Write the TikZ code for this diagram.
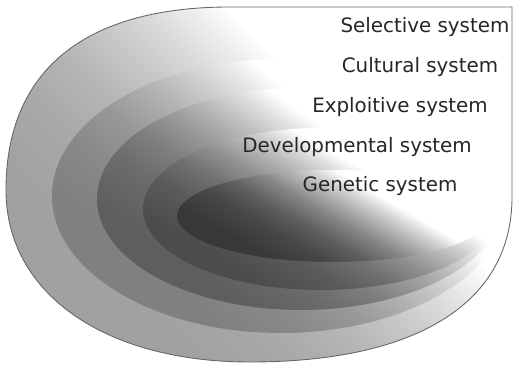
\documentclass[tikz,border=0pt]{standalone}
\usepackage{fontspec}
\setsansfont{DejaVu Sans}
\usepackage{xcolor}
\usepackage{tikz}

% one fade for every shell, tone taken from layertone when used
\colorlet{layertone}{black!40}
\pgfdeclarehorizontalshading[layertone]{layerfade}{100bp}{color(0bp)=(layertone); color(30bp)=(layertone); color(38bp)=(layertone!92!white); color(44bp)=(layertone!80!white); color(50bp)=(layertone!60!white); color(55bp)=(layertone!38!white); color(59bp)=(layertone!18!white); color(62bp)=(white); color(100bp)=(white)}

\tikzset{
    shell/.style={shading=layerfade, shading angle=#1},
    shell/.default=45,
    rim/.style={draw=black!60, line width=0.5pt},
    systemtext/.style={font=\fontsize{11.3}{13}\selectfont\sffamily, text=black!85, inner sep=0pt}
}

\begin{document}
\begin{tikzpicture}[x=0.02cm, y=0.02cm]
    \useasboundingbox (0,0) rectangle (513,367);

    % outer shell, flat along the top and right
    \colorlet{layertone}{black!37}
    \shade[shell, rim] (512,360) -- (230,360)
        .. controls (84,360) and (6,296) .. (6,177)
        .. controls (6,74) and (104,5) .. (250,5)
        .. controls (420,5) and (512,66) .. (512,170) -- cycle;

    % inner shells
    \foreach \cx/\cy/\rx/\ry/\tone/\ang in {281/171/229/137/50/50, 301/168/204/111/63/55, 321/158/178/81/70/60, 333/151/156/46/78/60} {
        \colorlet{layertone}{black!\tone}
        \shade[shell=\ang] (\cx,\cy) ellipse[x radius=\rx, y radius=\ry];
    }

    \node (selective) [systemtext] at (425,340) {Selective system};
    \node (cultural) [systemtext] at (420,300) {Cultural system};
    \node (exploitive) [systemtext] at (400,260) {Exploitive system};
    \node (developmental) [systemtext] at (357,220) {Developmental system};
    \node (genetic) [systemtext] at (380,181) {Genetic system};
\end{tikzpicture}
\end{document}
